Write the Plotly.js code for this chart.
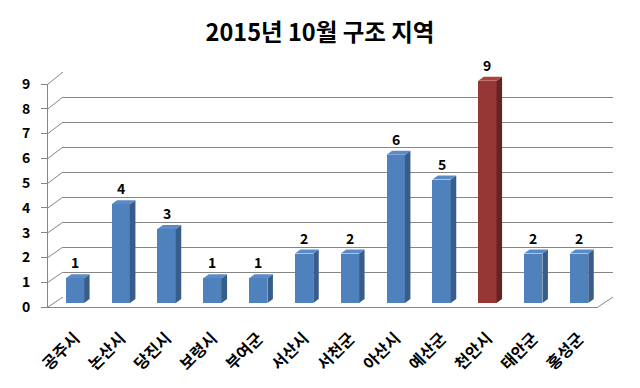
<!DOCTYPE html>
<html>
<head>
<meta charset="utf-8">
<script src="https://cdn.plot.ly/plotly-3.0.1.min.js"></script>
<style>html,body{margin:0;padding:0;background:#fff;}#chart{width:640px;height:388px;}</style>
</head>
<body>
<div id="chart"></div>
<script>
// ---- data ----
const titleText = '2015년 10월 구조 지역';
const categories = ['공주시','논산시','당진시','보령시','부여군','서산시','서천군','아산시','예산군','천안시','태안군','홍성군'];
const counts = [1,4,3,1,1,2,2,6,5,9,2,2];
const yTicks = [0,1,2,3,4,5,6,7,8,9];

// ---- styling / geometry ----
const FONT = '"Noto Sans CJK KR", "Noto Sans", sans-serif';
const W = 640, H = 388;
const L = 48, R = 27, T = 72, B = 81;
const pw = W - L - R, ph = H - T - B;
const depthX = 15, depthY = 10;            // wall depth in px
const barShiftX = 4, barShiftY = 4;         // bar placement in depth
const frontTopPx = 84, barTopPx = 80.7;
const yMax = 9;
const gray = '#868686';

const xFront = [0, (pw - depthX) / pw];
const yFront = [0, (H - B - frontTopPx) / ph];
const xBack = [depthX / pw, 1];
const yBack = [depthY / ph, 1];
const xBar = [barShiftX / pw, (barShiftX + pw - depthX) / pw];
const yBar = [barShiftY / ph, 1];

const idx = categories.map((c, i) => i);
const maxV = Math.max(...counts);
const front = counts.map(v => v === maxV ? '#953735' : '#4F81BD');
const side = counts.map(v => v === maxV ? '#632523' : '#385D8A');
const topc = counts.map(v => v === maxV ? '#A9443F' : '#5A8BC6');

const barW = 0.4;
const catPx = (pw - depthX) / categories.length;
const unitPx = (H - B - barShiftY - barTopPx) / yMax;
const barRangeTop = (H - B - barShiftY - T) / unitPx;
const dx = 5.5 / catPx, dy = 4 / unitPx;

const shapes = [];
// left wall diagonals
yTicks.forEach(t => {
  const fy = yFront[0] + (yFront[1] - yFront[0]) * t / yMax;
  const by = yBack[0] + (yBack[1] - yBack[0]) * t / yMax;
  shapes.push({type:'line', xref:'paper', yref:'paper', x0: xFront[0], y0: fy, x1: xBack[0], y1: by,
    line:{color: gray, width: 1}, layer:'below'});
});
// right floor edge
shapes.push({type:'line', xref:'paper', yref:'paper', x0: xFront[1], y0: yFront[0], x1: xBack[1], y1: yBack[0],
  line:{color: gray, width: 1}, layer:'below'});
idx.forEach(i => {
  const v = counts[i];
  const xl = i - barW / 2, xr = i + barW / 2;
  shapes.push({type:'path', xref:'x2', yref:'y2', line:{width:0}, fillcolor: side[i],
    path:`M ${xr} 0 L ${xr+dx} ${dy} L ${xr+dx} ${v+dy} L ${xr} ${v} Z`});
  shapes.push({type:'path', xref:'x2', yref:'y2', line:{width:0}, fillcolor: topc[i],
    path:`M ${xl} ${v} L ${xr} ${v} L ${xr+dx} ${v+dy} L ${xl+dx} ${v+dy} Z`});
});

const annotations = idx.map(i => ({
  xref:'x2', yref:'y2', x: i, y: counts[i] + dy, text: String(counts[i]),
  showarrow:false, yanchor:'bottom', yshift: 0,
  font:{family: FONT, size: 14, color:'#000', weight: 700}
}));

const data = [
  {type:'scatter', x:[0], y:[0], xaxis:'x', yaxis:'y', mode:'markers', marker:{opacity:0}, hoverinfo:'skip', showlegend:false},
  {type:'bar', x: idx, y: counts, xaxis:'x2', yaxis:'y2', width: barW,
   marker:{color: front, line:{width:0}}, showlegend:false, hoverinfo:'skip'},
  {type:'scatter', x:[0], y:[0], xaxis:'x3', yaxis:'y3', mode:'markers', marker:{opacity:0}, hoverinfo:'skip', showlegend:false}
];

const layout = {
  width: W, height: H,
  margin:{l:L, r:R, t:T, b:B, pad:0},
  paper_bgcolor:'#fff', plot_bgcolor:'rgba(0,0,0,0)',
  font:{family: FONT, color:'#000'},
  title:{text: titleText, x:0.5, xanchor:'center', xref:'container', y: 1 - 33/H, yanchor:'middle', yref:'container',
    font:{family: FONT, size: 23.5, color:'#000', weight: 700}},
  // back wall
  xaxis:{domain: xBack, range:[-0.5, categories.length - 0.5], anchor:'y', visible:false},
  yaxis:{domain: yBack, range:[0, yMax], anchor:'x', dtick:1, showgrid:true, gridcolor: gray, gridwidth:1,
    zeroline:false, showline:false, showticklabels:false, ticks:''},
  // bars and category labels
  xaxis2:{domain: xBar, range:[-0.5, categories.length - 0.5], anchor:'free', position:0,
    tickvals: idx, ticktext: categories, tickangle:-45, ticks:'', showline:false, showgrid:false, zeroline:false,
    ticklabelstandoff: 18, tickfont:{family: FONT, size: 16, color:'#000', weight: 700}},
  yaxis2:{domain: yBar, range:[0, barRangeTop], anchor:'x2', visible:false},
  // front edges and value axis
  xaxis3:{domain: xFront, range:[-0.5, categories.length - 0.5], anchor:'y3',
    showline:true, linecolor: gray, linewidth:1, showgrid:false, zeroline:false, showticklabels:false, ticks:''},
  yaxis3:{domain: yFront, range:[0, yMax], anchor:'x3', tickvals: yTicks,
    showline:true, linecolor: gray, linewidth:1, showgrid:false, zeroline:false,
    ticks:'outside', ticklen:6, tickcolor: gray, ticklabelstandoff: 8,
    tickfont:{family: FONT, size: 14, color:'#000', weight: 700}},
  shapes: shapes,
  annotations: annotations,
  bargap: 0
};

Plotly.newPlot('chart', data, layout, {staticPlot:true, displayModeBar:false});
</script>
</body>
</html>
